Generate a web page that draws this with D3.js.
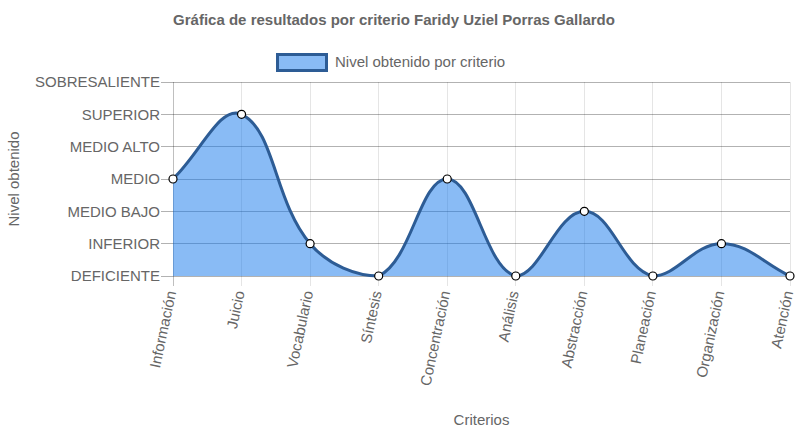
<!DOCTYPE html>
<html><head><meta charset="utf-8">
<script src="https://cdn.jsdelivr.net/npm/d3@7"></script>
<style>body{margin:0;background:#fff}svg{display:block}text{font-family:"Liberation Sans",Arial,Helvetica,sans-serif;fill:#666}</style>
</head><body>
<script>
const categories = ["Información","Juicio","Vocabulario","Síntesis","Concentración","Análisis","Abstracción","Planeación","Organización","Atención"];
const values = [3,5,1,0,3,0,2,0,1,0];
const levelLabels = ["DEFICIENTE","INFERIOR","MEDIO BAJO","MEDIO","MEDIO ALTO","SUPERIOR","SOBRESALIENTE"];
const title = "Gráfica de resultados por criterio Faridy Uziel Porras Gallardo";
const seriesName = "Nivel obtenido por criterio";
const yTitle = "Nivel obtenido";
const xTitle = "Criterios";

const W = 795, H = 435;
const area = {left:173, right:790, top:82, bottom:276};
const FS = 15;
const svg = d3.select("body").append("svg").attr("width",W).attr("height",H);

const x = d3.scalePoint().domain(categories).range([area.left, area.right]);
const y = d3.scaleLinear().domain([0, levelLabels.length-1]).range([area.bottom, area.top]);

// grid
const g = svg.append("g");
categories.forEach(c => {
  g.append("line").attr("x1",x(c)).attr("x2",x(c)).attr("y1",area.top).attr("y2",area.bottom+10)
   .attr("stroke", c===categories[0] ? "rgba(0,0,0,0.25)" : "rgba(0,0,0,0.1)").attr("stroke-width",1).attr("shape-rendering","crispEdges");
});
levelLabels.forEach((l,i) => {
  g.append("line").attr("x1",area.left-12).attr("x2",area.right).attr("y1",y(i)).attr("y2",y(i))
   .attr("stroke","rgba(0,0,0,0.3)").attr("stroke-width",1).attr("shape-rendering","crispEdges");
  svg.append("text").attr("x",area.left-13).attr("y",y(i)).attr("dy","0.35em").attr("text-anchor","end")
   .attr("font-size",FS).text(l);
});

// Chart.js-style spline
const tension = 0.4;
const pts = categories.map((c,i)=>({x:x(c), y:y(values[i])}));
pts.forEach((p,i)=>{
  const prev = pts[i-1]||p, next = pts[i+1]||p;
  const d01 = Math.hypot(p.x-prev.x,p.y-prev.y), d12 = Math.hypot(next.x-p.x,next.y-p.y);
  let s01 = d01/(d01+d12), s12 = d12/(d01+d12);
  if (isNaN(s01)) s01=0; if (isNaN(s12)) s12=0;
  const fa = tension*s01, fb = tension*s12;
  const clampX = v=>Math.max(area.left,Math.min(area.right,v));
  const clampY = v=>Math.max(area.top,Math.min(area.bottom,v));
  p.c1x = clampX(p.x - fa*(next.x-prev.x)); p.c1y = clampY(p.y - fa*(next.y-prev.y));
  p.c2x = clampX(p.x + fb*(next.x-prev.x)); p.c2y = clampY(p.y + fb*(next.y-prev.y));
});
function curve(path){
  path.moveTo(pts[0].x, pts[0].y);
  for(let i=1;i<pts.length;i++){
    const a=pts[i-1], b=pts[i];
    path.bezierCurveTo(a.c2x,a.c2y,b.c1x,b.c1y,b.x,b.y);
  }
  return path;
}
const fillP = curve(d3.path());
fillP.lineTo(pts[pts.length-1].x, y(0)); fillP.lineTo(pts[0].x, y(0)); fillP.closePath();
svg.append("path").attr("d",fillP.toString()).attr("fill","rgba(20,120,235,0.5)");
svg.append("path").attr("d",curve(d3.path()).toString()).attr("fill","none").attr("stroke","#2d5c95").attr("stroke-width",3);

svg.selectAll("circle.pt").data(pts).join("circle").attr("cx",d=>d.x).attr("cy",d=>d.y).attr("r",4)
  .attr("fill","#fff").attr("stroke","#000").attr("stroke-width",1.2);

// x labels
categories.forEach(c=>{
  svg.append("text").attr("transform",`translate(${x(c)-2},${area.bottom+15}) rotate(-78)`)
    .attr("text-anchor","end").attr("dy","0.35em").attr("font-size",FS).text(c);
});

// titles
svg.append("text").attr("x",394).attr("y",25).attr("text-anchor","middle").attr("font-size",FS).attr("font-weight","bold").text(title);
svg.append("rect").attr("x",277.5).attr("y",54.5).attr("width",49).attr("height",16).attr("fill","rgba(20,120,235,0.5)").attr("stroke","#2d5c95").attr("stroke-width",3);
svg.append("text").attr("x",335).attr("y",62).attr("dy","0.35em").attr("font-size",FS).text(seriesName);
svg.append("text").attr("transform",`translate(14,${(area.top+area.bottom)/2}) rotate(-90)`).attr("text-anchor","middle").attr("dy","0.35em").attr("font-size",FS).text(yTitle);
svg.append("text").attr("x",(area.left+area.right)/2).attr("y",420).attr("text-anchor","middle").attr("dy","0.35em").attr("font-size",FS).text(xTitle);
</script>
</body></html>
